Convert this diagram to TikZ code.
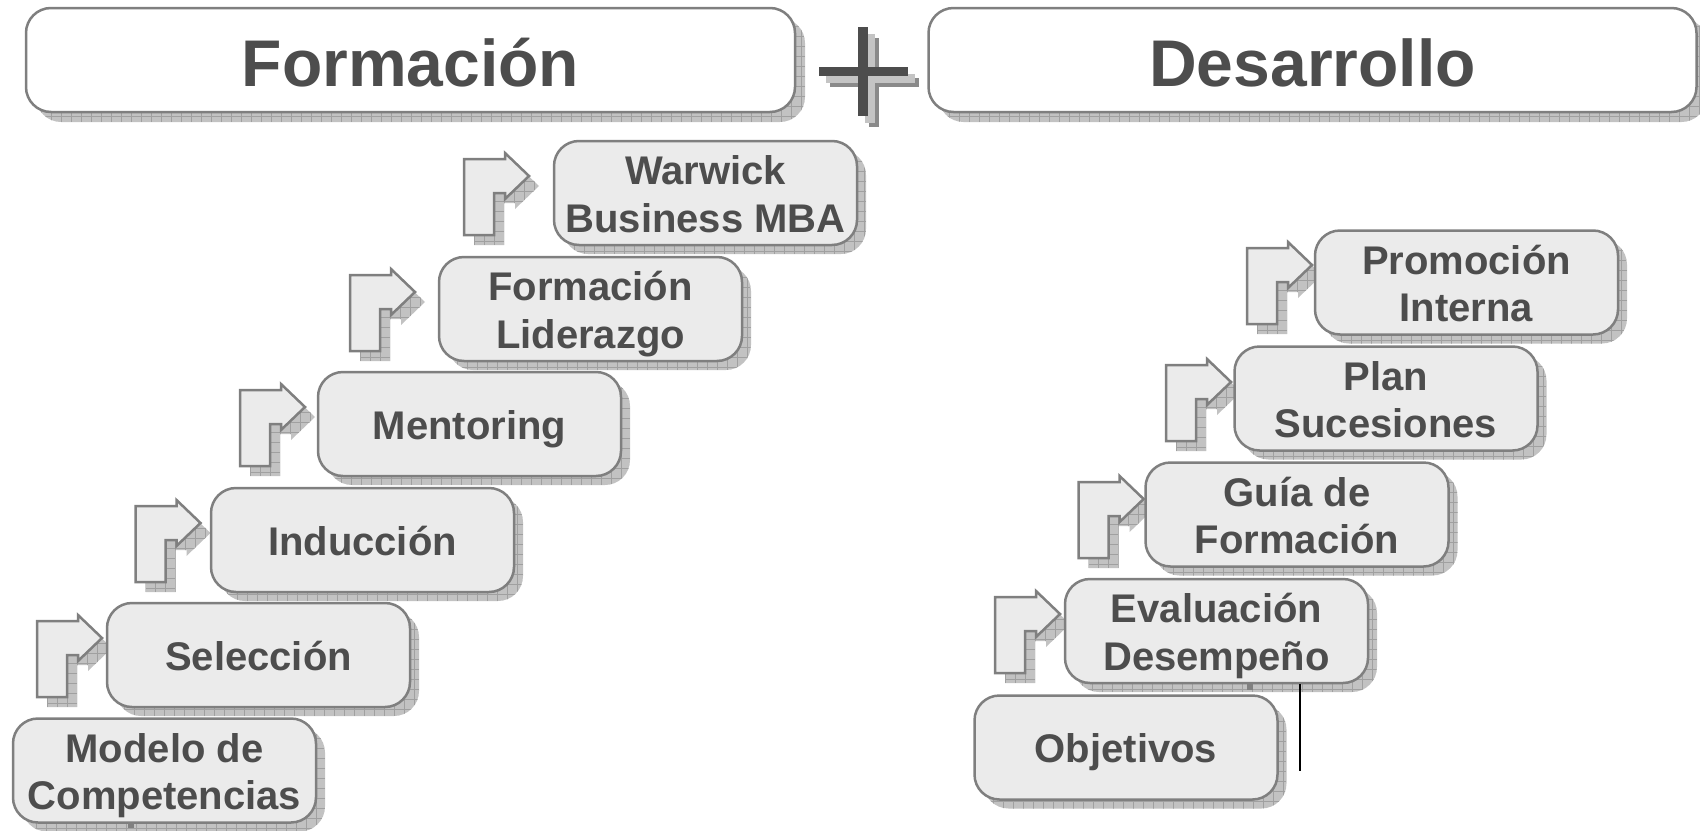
\documentclass[tikz,border=0pt]{standalone}
\usepackage{fontspec}
\setmainfont{Liberation Sans}
\usetikzlibrary{shadows}
\definecolor{txtgray}{HTML}{4D4D4D}
\definecolor{boxfill}{HTML}{EBEBEB}
\definecolor{boxline}{HTML}{7F7F7F}
\definecolor{shadowfill}{HTML}{C2C2C2}
\definecolor{gridline}{HTML}{A0A0A0}
\definecolor{plusmain}{HTML}{4D4D4D}
\definecolor{pluslight}{HTML}{C4C4C4}
\definecolor{plusdark}{HTML}{8A8A8A}
\newcommand\bl[1]{\smash{#1}\rule[-7.5pt]{0pt}{45.5pt}}
\newcommand\tl[1]{\smash{#1}\rule[-6pt]{0pt}{64pt}}
\begin{document}
\begin{tikzpicture}[x=1pt,y=-1pt,
  shadowgrid/.style={path picture={\draw[gridline,line width=0.8pt,step=10pt] (path picture bounding box.south west) grid (path picture bounding box.north east);}},
  shad/.style={fill=shadowfill, draw=none, shadowgrid},
  stepbox/.style={draw=boxline, line width=2.5pt, fill=boxfill, rounded corners=25pt,
    minimum width=303pt, minimum height=104pt, inner sep=0pt, align=center, text=txtgray,
    font=\fontsize{40}{47.5}\selectfont\bfseries,
    drop shadow={shadow xshift=9pt, shadow yshift=-9pt, opacity=1, shad}},
  titlebox/.style={draw=boxline, line width=2.5pt, fill=white, rounded corners=25pt,
    minimum height=104pt, inner sep=0pt, text=txtgray,
    font=\fontsize{66}{70}\selectfont\bfseries,
    drop shadow={shadow xshift=10pt, shadow yshift=-10pt, opacity=1, shad}},
  arrbody/.style={draw=boxline, line width=2.5pt, fill=boxfill, line join=miter},
  bentarr/.pic={
    \begin{scope}[shift={(10,10)}]
      \fill[shad] (0,18) -- (41,18) -- (41,12) -- (65,35) -- (41,58) -- (41,52) -- (30,52) -- (30,94) -- (0,94) -- cycle;
    \end{scope}
    \path[arrbody] (0,18) -- (41,18) -- (41,12) -- (65,35) -- (41,58) -- (41,52) -- (30,52) -- (30,94) -- (0,94) -- cycle;
  }
]
\useasboundingbox (0,0) rectangle (1700,830);

% title boxes
\node[titlebox, minimum width=769pt] (form) at (410.5,60) {\tl{Formación}};
\node[titlebox, minimum width=768pt] (desa) at (1312.5,60) {\tl{Desarrollo}};

% plus sign
\fill[plusdark] (868.7,38) rectangle (879.3,127);
\fill[plusdark] (830,77.7) rectangle (918.7,87);
\fill[pluslight] (864.7,34) rectangle (875.3,123);
\fill[pluslight] (826,73.7) rectangle (914.7,83);
\fill[plusmain] (857.7,27) rectangle (868.3,116);
\fill[plusmain] (819,66.7) rectangle (907.7,76);

% left staircase
\pic at (37,603) {bentarr};
\pic at (135.5,488) {bentarr};
\pic at (240,372) {bentarr};
\pic at (350,257) {bentarr};
\pic at (464,141) {bentarr};

\fill[boxline] (656,361) circle (5.5);
\node[stepbox] (modelo) at (164.5,770.5) {\bl{Modelo de}\\\bl{Competencias}};
\node[stepbox] (seleccion) at (258.5,655) {\bl{Selección}};
\node[stepbox] (induccion) at (362.5,540) {\bl{Inducción}};
\node[stepbox] (mentoring) at (469.5,424) {\bl{Mentoring}};
\node[stepbox] (liderazgo) at (590.5,309) {\bl{Formación}\\\bl{Liderazgo}};
\node[stepbox] (warwick) at (705.5,193) {\bl{Warwick}\\\bl{Business MBA}};

% right staircase
\pic at (995,579) {bentarr};
\pic at (1078.6,464) {bentarr};
\pic at (1166,347) {bentarr};
\pic at (1247,230) {bentarr};

\node[stepbox] (objetivos) at (1126,747.5) {\bl{Objetivos}};
\node[stepbox] (evaluacion) at (1216.5,631) {\bl{Evaluación}\\\bl{Desempeño}};
\node[stepbox] (guia) at (1297,514.5) {\bl{Guía de}\\\bl{Formación}};
\node[stepbox] (plan) at (1386,398.5) {\bl{Plan}\\\bl{Sucesiones}};
\node[stepbox] (promocion) at (1466.5,282.5) {\bl{Promoción}\\\bl{Interna}};

% stray vertical line and small marks
\coordinate (vl) at (1300,771);
\draw[black, line width=1.5pt] (evaluacion.south -| vl) -- (vl);
\fill[gridline!80!black] (1247,684) rectangle (1253,690);
\fill[gridline!80!black] (128,822) rectangle (134,828);
\end{tikzpicture}
\end{document}
